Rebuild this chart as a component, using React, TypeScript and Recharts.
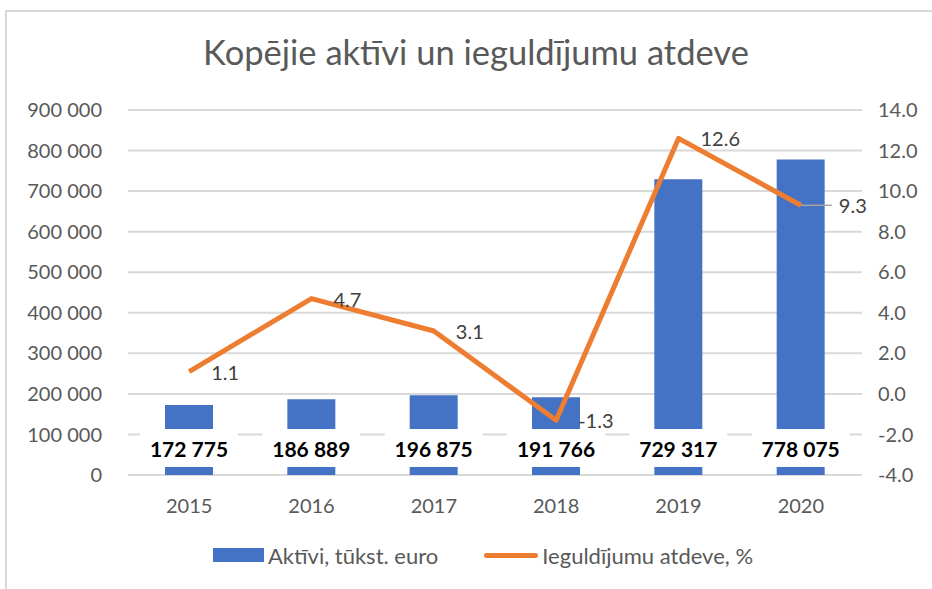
import React from 'react'
import { Bar, CartesianGrid, ComposedChart, LabelList, Legend, Line, XAxis, YAxis } from 'recharts'

const years = ['2015', '2016', '2017', '2018', '2019', '2020']
const assets = [172775, 186889, 196875, 191766, 729317, 778075]
const returns = [1.1, 4.7, 3.1, -1.3, 12.6, 9.3]
const leftTicks = [0, 100000, 200000, 300000, 400000, 500000, 600000, 700000, 800000, 900000]
const rightTicks = [-4, -2, 0, 2, 4, 6, 8, 10, 12, 14]

const data = years.map((year, i) => ({ year, assets: assets[i], returns: returns[i] }))

const FONT = 'Lato, "Open Sans", sans-serif'
const BLUE = '#4472C4'
const ORANGE = '#ED7D31'
const GREY = '#595959'

const spaced = (n: number) => n.toString().replace(/\B(?=(\d{3})+(?!\d))/g, ' ')

const BarValue = (props: any) => {
    const { x, y, width, height, value } = props
    const cx = x + width / 2
    const bottom = y + height
    return (
        <g>
            <rect x={cx - 49} y={bottom - 46} width={98} height={38} fill='#fff' />
            <text x={cx} y={bottom - 27} textAnchor='middle' dominantBaseline='central'
                fontSize={21} fontWeight={700} fill='#000' fontFamily={FONT}>
                {spaced(value)}
            </text>
        </g>
    )
}

const LineValue = (props: any) => {
    const { x, y, value, index } = props
    const last = index === returns.length - 1
    const tx = last ? x + 38 : x + 22
    return (
        <g>
            {last && <line x1={x} y1={y} x2={x + 31} y2={y} stroke='#a6a6a6' strokeWidth={1.5} />}
            <text x={tx} y={y} dominantBaseline='central' fontSize={20} fill='#404040' fontFamily={FONT}>
                {value.toFixed(1)}
            </text>
        </g>
    )
}

const LegendBox = () => (
    <div style={{ height: 28, display: 'flex', justifyContent: 'center', alignItems: 'center', gap: 46, fontFamily: FONT, fontSize: 22, color: GREY, paddingLeft: 34 }}>
        <div style={{ display: 'flex', alignItems: 'center', gap: 4 }}>
            <div style={{ width: 51, height: 14, background: BLUE }}></div>
            <span>Aktīvi, tūkst. euro</span>
        </div>
        <div style={{ display: 'flex', alignItems: 'center', gap: 4 }}>
            <div style={{ width: 54, height: 5, borderRadius: 3, background: ORANGE }}></div>
            <span>Ieguldījumu atdeve, %</span>
        </div>
    </div>
)

const App = () => {
    return (
        <div style={{ position: 'absolute', left: 0, top: 0, width: 932, height: 589, overflow: 'hidden', background: '#fff', fontFamily: FONT }}>
            <div style={{ position: 'absolute', left: 5, top: 10, width: 1000, height: 700, borderLeft: '2px solid #d9d9d9', borderTop: '2px solid #d9d9d9' }}></div>
            <div style={{ position: 'absolute', left: 0, top: 31, width: 952, textAlign: 'center', fontSize: 34.5, color: GREY }}>
                Kopējie aktīvi un ieguldījumu atdeve
            </div>
            <ComposedChart width={932} height={589} data={data} margin={{ top: 110, right: 0, left: 0, bottom: 20 }}>
                <CartesianGrid yAxisId='left' vertical={false} stroke='#d9d9d9' strokeWidth={2} />
                <XAxis dataKey='year' height={66} axisLine={false} tickLine={false} tickSize={0} tickMargin={24}
                    tick={{ fontSize: 20, fill: GREY, fontFamily: FONT }} />
                <YAxis yAxisId='left' width={128} domain={[0, 900000]} ticks={leftTicks} tickFormatter={spaced}
                    axisLine={false} tickLine={false} tickSize={0} tickMargin={26} interval={0}
                    tick={{ fontSize: 20, fill: GREY, fontFamily: FONT }} />
                <YAxis yAxisId='right' orientation='right' width={70} domain={[-4, 14]} ticks={rightTicks}
                    tickFormatter={(v: number) => v.toFixed(1)}
                    axisLine={false} tickLine={false} tickSize={0} tickMargin={16} interval={0}
                    tick={{ fontSize: 20, fill: GREY, fontFamily: FONT, textAnchor: 'start' }} />
                <Legend verticalAlign='bottom' content={<LegendBox />} />
                <Bar yAxisId='left' dataKey='assets' name='Aktīvi, tūkst. euro' fill={BLUE} barSize={48} isAnimationActive={false}>
                    <LabelList dataKey='assets' content={<BarValue />} />
                </Bar>
                <Line yAxisId='right' dataKey='returns' name='Ieguldījumu atdeve, %' stroke={ORANGE} strokeWidth={5}
                    strokeLinejoin='round' dot={false} activeDot={false} isAnimationActive={false}>
                    <LabelList dataKey='returns' content={<LineValue />} />
                </Line>
            </ComposedChart>
        </div>
    )
}

export default App
